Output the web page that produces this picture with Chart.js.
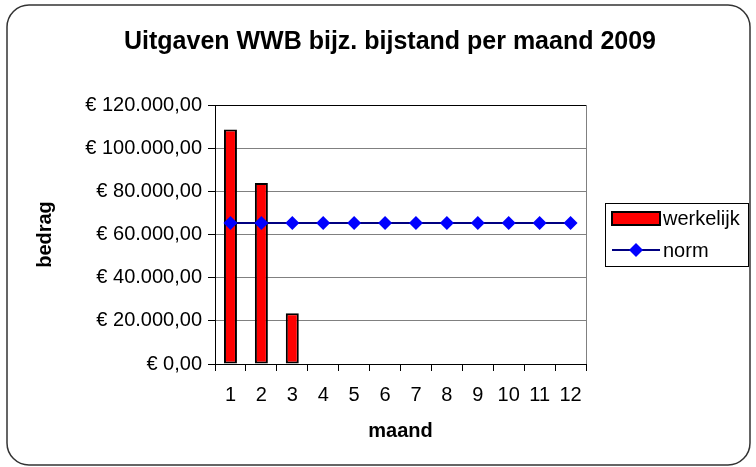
<!DOCTYPE html>
<html>
<head>
<meta charset="utf-8">
<script src="https://cdn.jsdelivr.net/npm/chart.js@4"></script>
<style>
  html, body { margin: 0; padding: 0; background: #fff; }
  #wrap { width: 756px; height: 467px; }
</style>
</head>
<body>
<div id="wrap"><canvas id="chart" width="756" height="467"></canvas></div>
<script>
// maanden op de x-as
const maanden = ['1', '2', '3', '4', '5', '6', '7', '8', '9', '10', '11', '12'];
// werkelijke uitgaven (alleen jan t/m mrt bekend)
const werkelijk = [108700, 83900, 23500, null, null, null, null, null, null, null, null, null];
// norm per maand
const norm = [65300, 65300, 65300, 65300, 65300, 65300, 65300, 65300, 65300, 65300, 65300, 65300];

const titel = 'Uitgaven WWB bijz. bijstand per maand 2009';
const fontFam = 'Arial, "Liberation Sans", sans-serif';

// bedrag als "€ 120.000,00"
function euro(v) {
    const parts = Math.round(v).toString().replace(/\B(?=(\d{3})+(?!\d))/g, '.');
    return '€ ' + parts + ',00';
}

// rand, titel, rechterrand plotgebied en legenda
const decor = {
    id: 'decor',
    beforeDraw(chart) {
        const ctx = chart.ctx;
        ctx.save();
        ctx.fillStyle = '#fff';
        ctx.fillRect(0, 0, chart.width, chart.height);
        ctx.strokeStyle = '#333';
        ctx.lineWidth = 1.5;
        ctx.beginPath();
        ctx.roundRect(7, 5, 743, 460, 22);
        ctx.stroke();
        ctx.restore();
    },
    afterDraw(chart) {
        const ctx = chart.ctx;
        const a = chart.chartArea;
        ctx.save();
        // titel
        ctx.fillStyle = '#000';
        ctx.font = 'bold 25px ' + fontFam;
        ctx.textAlign = 'center';
        ctx.textBaseline = 'middle';
        ctx.fillText(titel, 390, 42);
        // rechterrand
        ctx.strokeStyle = '#808080';
        ctx.lineWidth = 1;
        ctx.beginPath();
        ctx.moveTo(Math.round(a.right) + 0.5, a.top);
        ctx.lineTo(Math.round(a.right) + 0.5, a.bottom);
        ctx.stroke();
        // legenda
        const lx = 605, ly = 203, lw = 143, lh = 63;
        ctx.strokeStyle = '#000';
        ctx.strokeRect(lx + 0.5, ly + 0.5, lw, lh);
        const ds = chart.data.datasets;
        ctx.font = '20px ' + fontFam;
        ctx.textAlign = 'left';
        // bar item
        ctx.fillStyle = ds[0].backgroundColor;
        ctx.fillRect(612, 212, 48, 13);
        ctx.lineWidth = 2;
        ctx.strokeStyle = '#000';
        ctx.strokeRect(612, 212, 48, 13);
        ctx.fillStyle = '#000';
        ctx.fillText(ds[0].label, 663, 219);
        // line item
        ctx.strokeStyle = ds[1].borderColor;
        ctx.lineWidth = 2;
        ctx.beginPath();
        ctx.moveTo(612, 250);
        ctx.lineTo(660, 250);
        ctx.stroke();
        ctx.fillStyle = ds[1].pointBackgroundColor;
        ctx.beginPath();
        ctx.moveTo(636, 243);
        ctx.lineTo(643, 250);
        ctx.lineTo(636, 257);
        ctx.lineTo(629, 250);
        ctx.closePath();
        ctx.fill();
        ctx.fillStyle = '#000';
        ctx.fillText(ds[1].label, 663, 251);
        ctx.restore();
    }
};

const ctx = document.getElementById('chart').getContext('2d');
const myChart = new Chart(ctx, {
    type: 'bar',
    data: {
        labels: maanden,
        datasets: [{
            type: 'bar',
            label: 'werkelijk',
            data: werkelijk,
            backgroundColor: '#ff0000',
            borderColor: '#000000',
            borderWidth: 2,
            borderSkipped: false,
            barPercentage: 0.42,
            categoryPercentage: 1,
            order: 1
        }, {
            type: 'line',
            label: 'norm',
            data: norm,
            borderColor: '#000080',
            borderWidth: 2,
            pointStyle: 'rectRot',
            pointRadius: 7,
            pointBackgroundColor: '#0000ff',
            pointBorderColor: '#0000ff',
            pointBorderWidth: 0,
            order: 0
        }]
    },
    options: {
        responsive: false,
        animation: false,
        layout: { padding: { top: 105, left: 20, right: 170, bottom: 20 } },
        plugins: {
            legend: { display: false },
            tooltip: { enabled: false }
        },
        scales: {
            x: {
                afterFit: s => { s.height = 83; },
                grid: { drawOnChartArea: false, color: '#000', tickLength: 7, offset: true },
                border: { color: '#000', width: 1 },
                ticks: { color: '#000', font: { size: 20, family: fontFam }, padding: 12, maxRotation: 0, autoSkip: false },
                title: { display: true, text: 'maand', color: '#000', font: { size: 20, weight: 'bold', family: fontFam }, padding: { top: 4, bottom: 4 } }
            },
            y: {
                min: 0,
                max: 120000,
                afterFit: s => { s.width = 195; },
                grid: {
                    color: c => (c.tick && c.tick.value === 120000) ? '#000' : '#808080',
                    tickColor: '#000',
                    tickLength: 7
                },
                border: { color: '#000', width: 1 },
                ticks: { stepSize: 20000, color: '#000', font: { size: 20, family: fontFam }, padding: 6, callback: v => euro(v) },
                title: { display: true, text: 'bedrag', color: '#000', font: { size: 20, weight: 'bold', family: fontFam }, padding: { top: 13, bottom: 4 } }
            }
        }
    },
    plugins: [decor]
});
</script>
</body>
</html>
